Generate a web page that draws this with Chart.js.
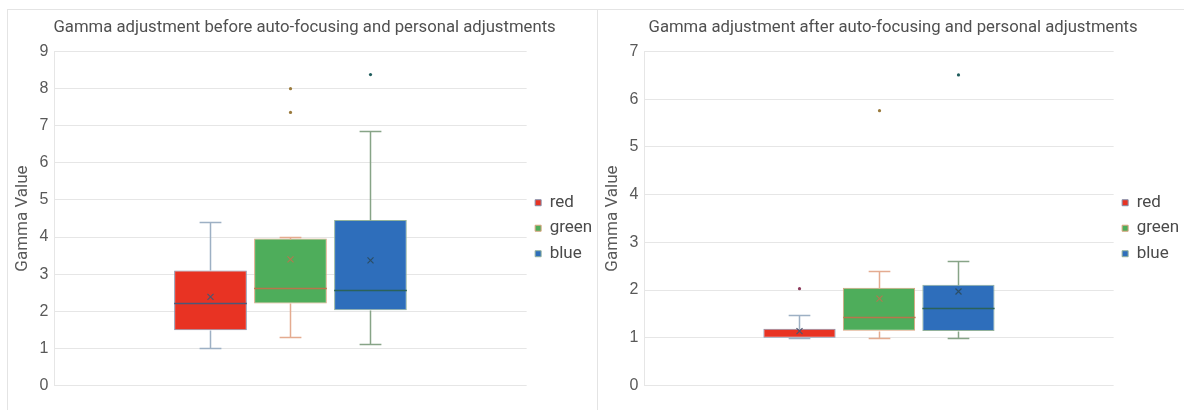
<!DOCTYPE html>
<html>
<head>
<meta charset="utf-8">
<script src="https://cdn.jsdelivr.net/npm/chart.js@4.4.1/dist/chart.umd.min.js"></script>
<style>
  html, body { margin: 0; padding: 0; background: #fff; }
  body { width: 1184px; height: 410px; position: relative; overflow: hidden; }
  .panel { position: absolute; top: 9px; height: 410px; border-top: 1px solid #e4e4e4; border-left: 1px solid #e4e4e4; box-sizing: border-box; }
  #p1 { left: 7px; width: 590px; }
  #p2 { left: 597px; width: 587px; }
  canvas { position: absolute; top: 0; }
  #c1 { left: 7px; }
  #c2 { left: 597px; }
</style>
</head>
<body>
<div class="panel" id="p1"></div>
<div class="panel" id="p2"></div>
<canvas id="c1" width="590" height="410"></canvas>
<canvas id="c2" width="587" height="410"></canvas>
<script>
const seriesNames = ['red', 'green', 'blue']

// before auto-focusing
const beforeMin = [1.01, 1.30, 1.13]
const beforeQ1 = [1.49, 2.21, 2.03]
const beforeMedian = [2.23, 2.62, 2.57]
const beforeQ3 = [3.10, 3.96, 4.46]
const beforeMax = [4.41, 3.99, 6.86]
const beforeMean = [2.39, 3.40, 3.37]
const beforeOutliers = [[], [7.36, 8.0], [8.38]]

// after auto-focusing
const afterMin = [1.0, 1.0, 1.0]
const afterQ1 = [1.0, 1.15, 1.14]
const afterMedian = [1.0, 1.44, 1.63]
const afterQ3 = [1.19, 2.05, 2.11]
const afterMax = [1.47, 2.41, 2.60]
const afterMean = [1.14, 1.82, 1.97]
const afterOutliers = [[2.03], [5.76], [6.51]]

// excel mixes up the accent colours on the box parts
const fillColors = ['#e83323', '#4ead5b', '#2e6ebb']
const borderColors = ['#8590ab', '#dba47e', '#93b29c']
const whiskerColors = ['#9db0c4', '#e4ab90', '#87a487']
const medianColors = ['#4b5878', '#b8764c', '#2b625a']
const meanColors = ['#4d5670', '#b07a50', '#2b4e66']
const outlierColors = ['#8c3a5c', '#9a7a3c', '#1f5c5c']

const textColor = '#595959'
const gridColor = '#e6e6e6'

function boxPlugin(stats) {
  return {
    id: 'boxExtras',
    afterDatasetsDraw(chart) {
      const ctx = chart.ctx
      const y = chart.scales.y
      ctx.save()
      stats.q1.forEach((q1, i) => {
        const bar = chart.getDatasetMeta(i).data[0]
        const cx = Math.round(bar.x) + 0.5
        const half = bar.width / 2
        const cap = bar.width * 0.15
        const py = (v) => Math.round(y.getPixelForValue(v)) + 0.5

        // whiskers
        ctx.strokeStyle = whiskerColors[i]
        ctx.lineWidth = 1.5
        ctx.beginPath()
        if (stats.max[i] > stats.q3[i]) {
          ctx.moveTo(cx, py(stats.q3[i])); ctx.lineTo(cx, py(stats.max[i]))
        }
        ctx.moveTo(cx - cap, py(stats.max[i])); ctx.lineTo(cx + cap, py(stats.max[i]))
        if (stats.min[i] < q1) {
          ctx.moveTo(cx, py(q1)); ctx.lineTo(cx, py(stats.min[i]))
        }
        ctx.moveTo(cx - cap, py(stats.min[i])); ctx.lineTo(cx + cap, py(stats.min[i]))
        ctx.stroke()

        // median (skip when it sits on the box edge)
        if (stats.median[i] > q1) {
          ctx.strokeStyle = medianColors[i]
          ctx.lineWidth = 1.5
          ctx.beginPath()
          ctx.moveTo(cx - half, py(stats.median[i])); ctx.lineTo(cx + half, py(stats.median[i]))
          ctx.stroke()
        }

        // mean marker
        const my = y.getPixelForValue(stats.mean[i])
        ctx.strokeStyle = meanColors[i]
        ctx.lineWidth = 1.2
        ctx.beginPath()
        ctx.moveTo(cx - 3, my - 3); ctx.lineTo(cx + 3, my + 3)
        ctx.moveTo(cx + 3, my - 3); ctx.lineTo(cx - 3, my + 3)
        ctx.stroke()

        // outliers
        ctx.fillStyle = outlierColors[i]
        stats.outliers[i].forEach((v) => {
          ctx.beginPath()
          ctx.arc(cx, y.getPixelForValue(v), 1.6, 0, Math.PI * 2)
          ctx.fill()
        })
      })
      ctx.restore()
    },
  }
}

function makeChart(el, title, stats, yMax) {
  return new Chart(el, {
    type: 'bar',
    data: {
      labels: [''],
      datasets: seriesNames.map((name, i) => ({
        label: name,
        data: [[stats.q1[i], stats.q3[i]]],
        backgroundColor: fillColors[i],
        borderColor: borderColors[i],
        borderWidth: 1,
        borderSkipped: false,
        categoryPercentage: 0.508,
        barPercentage: 0.909,
      })),
    },
    options: {
      responsive: false,
      animation: false,
      layout: { padding: { left: 0, right: -5.2, top: 0, bottom: 24.5 } },
      scales: {
        x: { display: false },
        y: {
          min: 0,
          max: yMax,
          ticks: {
            stepSize: 1,
            padding: 6,
            color: textColor,
            font: { family: 'Liberation Sans', size: 16 },
          },
          grid: { color: gridColor, lineWidth: 1, drawTicks: false },
          border: { display: true, color: gridColor },
          title: {
            display: true,
            text: 'Gamma Value',
            color: textColor,
            padding: { top: 5.8, bottom: 0 },
            font: { family: 'Roboto', size: 17 },
          },
          afterFit: (scale) => { scale.width = 47.3 },
        },
      },
      plugins: {
        title: {
          display: true,
          text: title,
          color: '#505050',
          padding: { top: 17.5, bottom: 14 },
          font: { family: 'Roboto', size: 16.7, weight: 'normal' },
        },
        legend: {
          position: 'right',
          fullSize: false,
          title: { display: true, text: ' ', padding: 3.7, font: { size: 10 } },
          labels: {
            boxWidth: 6,
            boxHeight: 6,
            padding: 8.5,
            color: '#4a4a4a',
            font: { family: 'Roboto', size: 17 },
          },
        },
        tooltip: { enabled: false },
      },
    },
    plugins: [boxPlugin(stats)],
  })
}

makeChart(document.getElementById('c1'),
  'Gamma adjustment before auto-focusing and personal adjustments',
  { min: beforeMin, q1: beforeQ1, median: beforeMedian, q3: beforeQ3, max: beforeMax, mean: beforeMean, outliers: beforeOutliers },
  9)

makeChart(document.getElementById('c2'),
  'Gamma adjustment after auto-focusing and personal adjustments',
  { min: afterMin, q1: afterQ1, median: afterMedian, q3: afterQ3, max: afterMax, mean: afterMean, outliers: afterOutliers },
  7)
</script>
</body>
</html>
